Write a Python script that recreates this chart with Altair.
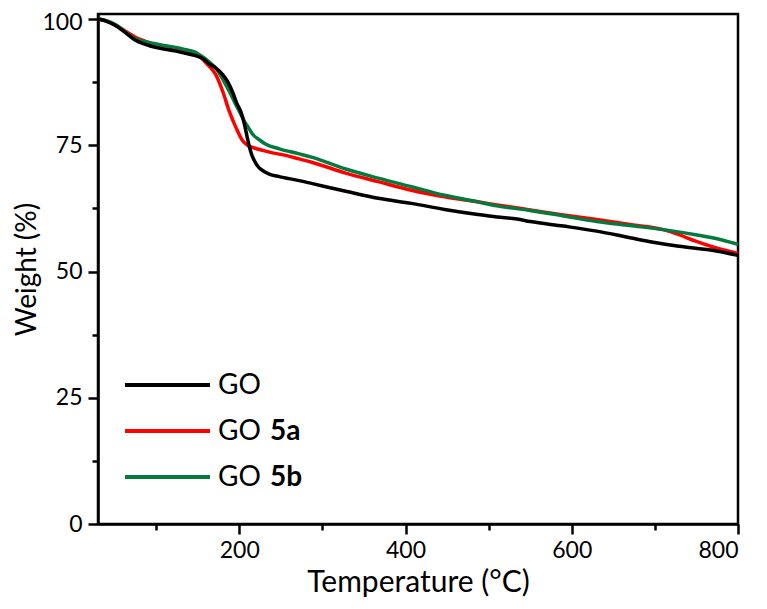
import altair as alt
import pandas as pd

# ---- data ----
go_t = [30, 40, 51, 63, 75, 87, 99, 111, 122, 135, 146, 156, 164, 172, 180, 186, 192, 197, 202,
        206, 209, 212, 215, 218, 223, 228, 236, 248, 272, 288, 328, 367, 407, 447, 487, 510, 534,
        550, 590, 630, 670, 698, 729, 769, 800]
go_w = [100, 99.6, 98.7, 97.3, 95.8, 95.0, 94.4, 94.0, 93.7, 93.2, 92.8, 92.2, 91.1, 90.3, 89.0,
        87.6, 85.5, 83.3, 81.6, 79.3, 77.0, 74.8, 73.1, 72.0, 70.7, 70.0, 69.3, 68.8, 68.0, 67.4,
        65.9, 64.5, 63.5, 62.3, 61.3, 60.8, 60.4, 59.9, 59.0, 58.0, 56.7, 55.8, 55.0, 54.2, 53.2]

a_t = [30, 40, 51, 63, 75, 87, 99, 111, 122, 134, 146, 155, 160, 166, 172, 180, 188, 196, 204,
       210, 216, 228, 240, 256, 272, 288, 328, 367, 407, 447, 487, 510, 550, 590, 630, 670, 710,
       729, 749, 769, 800]
a_w = [100, 99.6, 98.8, 97.6, 96.4, 95.6, 94.9, 94.4, 93.9, 93.5, 93.0, 92.2, 91.3, 90.3, 88.9,
       85.7, 81.7, 78.5, 75.9, 75.0, 74.6, 74.0, 73.5, 73.0, 72.3, 71.6, 69.5, 67.8, 66.1, 64.8,
       63.8, 63.2, 62.2, 61.2, 60.3, 59.3, 58.3, 57.3, 56.0, 54.9, 53.6]

b_t = [30, 40, 51, 63, 75, 87, 99, 111, 122, 134, 146, 156, 164, 172, 178, 184, 190, 196, 201,
       206, 211, 216, 224, 232, 248, 272, 288, 328, 367, 407, 447, 487, 510, 550, 590, 630, 670,
       710, 749, 769, 800]
b_w = [100, 99.7, 98.9, 97.4, 96.1, 95.5, 95.1, 94.7, 94.4, 94.0, 93.5, 92.5, 91.5, 90.2, 88.7,
       86.9, 85.0, 83.0, 81.4, 79.8, 78.5, 77.2, 76.1, 75.2, 74.3, 73.3, 72.6, 70.3, 68.5, 66.8,
       65.1, 63.8, 63.0, 62.1, 61.0, 59.9, 59.1, 58.3, 57.3, 56.7, 55.4]

series_names = ["GO 5a", "GO 5b", "GO"]          # draw order: red, green, black on top
series_colors = ["#ff0000", "#047a3e", "#000000"]
legend_rows = ["GO", "GO 5a", "GO 5b"]
legend_bold = ["", "5a", "5b"]
legend_colors = ["#000000", "#ff0000", "#047a3e"]

x_major = [200, 400, 600, 800]
x_minor = [100, 300, 500, 700]
y_major = [0, 25, 50, 75, 100]
y_minor = [12.5, 37.5, 62.5, 87.5]

frames = []
for name, t, w in [("GO 5a", a_t, a_w), ("GO 5b", b_t, b_w), ("GO", go_t, go_w)]:
    frames.append(pd.DataFrame({"series": name, "T": t, "W": w}))
df = pd.concat(frames, ignore_index=True)

FONT = "Lato"
xscale = alt.Scale(domain=[30, 800], nice=False, zero=False)
yscale = alt.Scale(domain=[0, 101.0], nice=False, zero=False)

main = alt.Chart(df).mark_line(strokeWidth=3.5, interpolate="monotone").encode(
    x=alt.X("T:Q", scale=xscale,
            axis=alt.Axis(values=x_major, tickSize=10, labelPadding=5, orient="bottom",
                          title="Temperature (°C)", titleFontSize=30, titlePadding=5,
                          titleFontWeight="normal", titleFont=FONT)),
    y=alt.Y("W:Q", scale=yscale,
            axis=alt.Axis(values=y_major, tickSize=10, labelPadding=6, orient="left",
                          labelOffset={"condition": {"test": "datum.value == 100", "value": 3},
                                       "value": 0},
                          title="Weight (%)", titleFontSize=28, titlePadding=0,
                          titleFontWeight="normal", titleFont=FONT)),
    color=alt.Color("series:N", scale=alt.Scale(domain=series_names, range=series_colors), legend=None),
    detail="series:N",
)

minor = alt.Chart(df[df.series == "GO"]).mark_line(opacity=0).encode(
    x=alt.X("T:Q", scale=xscale,
            axis=alt.Axis(values=x_minor, tickSize=6, labels=False, domain=False, title=None,
                          orient="bottom")),
    y=alt.Y("W:Q", scale=yscale,
            axis=alt.Axis(values=y_minor, tickSize=6, labels=False, domain=False, title=None,
                          orient="left")),
)

legend_layers = []
one = pd.DataFrame({"k": [0]})
for i, (lab, bold, col) in enumerate(zip(legend_rows, legend_bold, legend_colors)):
    yy = 371 + 46 * i
    legend_layers.append(
        alt.Chart(one).mark_rule(color=col, strokeWidth=4).encode(
            x=alt.value(27), x2=alt.value(112), y=alt.value(yy)))
    legend_layers.append(
        alt.Chart(one).mark_text(text="GO", font=FONT, fontSize=28, align="left",
                                 baseline="middle", color="black").encode(
            x=alt.value(120), y=alt.value(yy + 1)))
    if bold:
        legend_layers.append(
            alt.Chart(one).mark_text(text=bold, font=FONT, fontSize=28, fontWeight="bold",
                                     align="left", baseline="middle", color="black").encode(
                x=alt.value(172), y=alt.value(yy + 1)))

chart = alt.layer(main, minor, *legend_layers).resolve_axis(
    x="independent", y="independent"
).properties(
    width=640, height=510,
    autosize=alt.AutoSizeParams(type="none"),
    padding={"left": 90, "top": 6, "right": 21, "bottom": 77},
).configure_view(
    stroke="black", strokeWidth=2.5
).configure_axis(
    grid=False, domainColor="black", domainWidth=2.5, tickColor="black", tickWidth=2.5,
    labelFont=FONT, labelFontSize=23, labelColor="black", titleColor="black",
)

chart.save("out.html", embed_options={"renderer": "svg", "actions": False})
